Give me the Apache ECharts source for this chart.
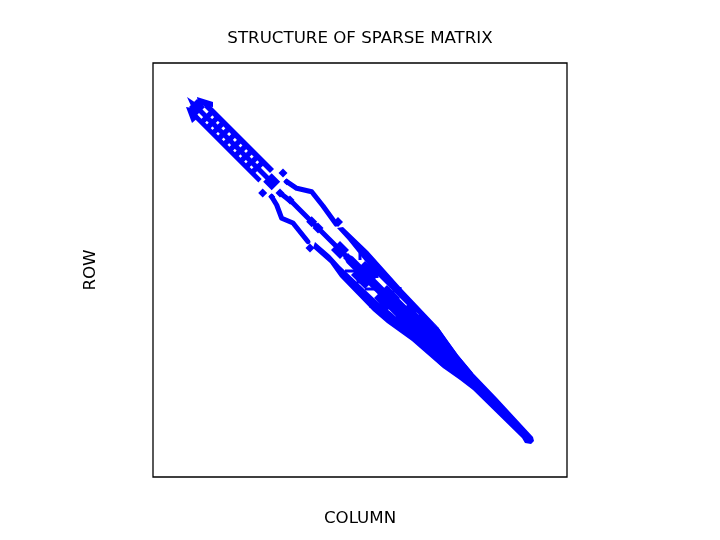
<!DOCTYPE html>
<html><head><meta charset="utf-8">
<script src="https://cdn.jsdelivr.net/npm/echarts@6/dist/echarts.min.js"></script>
<style>html,body{margin:0;padding:0;background:#fff}#c{width:720px;height:540px}</style></head>
<body><div id="c"></div>
<script>
const titleText = "STRUCTURE OF SPARSE MATRIX", colName = "COLUMN", rowName = "ROW";
// [column, row], matrix drawn on a 0..414 scale
const thinChains = [
  [[133.7,118.7],[143.7,125.3],[158.7,128.7],[170,143],[183,161]],
  [[127,130],[140,140],[158.7,158.7],[182,182],[197,197]],
  [[118.7,133.7],[123.7,142],[128.7,155.3],[140,160],[155,178.7]]
];
const earlyCore = [[197,197],[212,212],[234,234]];
const lateCore = [[234,234],[255,255],[272,274],[290,292]];
const bandStrips = [
  [[40,50.75],[107,117.75]],
  [[44,44.5],[115,115.5]],
  [[53,42],[119,108]]
];
const fillRegions = [
  [[34,34],[43,40],[39,45]],
  [[44,34],[60,39],[60,44],[51,43],[45,40]],
  [[33,44],[39,45],[46,54],[39,60]],
  [[190,164],[215,188],[232,207],[249,226],[267,245],[285,264],[258,246],[237,225],[220,208],[195,177],[184,165]],
  [[160,185],[177,200],[187,214],[220,248],[234,260],[259,278],[267,285],[290,305],[277,288],[257,267],[239,250],[224,238],[207,222],[187,203],[177,192],[162,179]],
  [[265,248],[285,264],[305,292],[320,310],[290,305],[272,287],[268,270]],
  [[285,264],[294,277],[305,292],[320,310],[344,335],[380,374],[381,378],[378,381],[372,380],[369,375],[320,327],[307,317],[290,305]]
];
const rungPoints = [
  [51,57],[56.6,62.6],[62.1,68.1],[67.7,73.7],[73.3,79.3],[78.9,84.9],[84.5,90.5],[90,96],[95.5,101.5],[101.3,107.3],
  [56.5,51.5],[62,57],[67.5,62.5],[73.2,68.2],[79,74],[84.8,79.8],[90.3,85.3],[95.8,90.8],[101.5,96.5],[107,102]
];
const clusterPoints = [
  [44,44,16],[118.7,118.7,17],[130,110,9],[109.7,130,9],[133.7,118.7,7],[118.7,133.7,7],
  [127,130,9],[137,137,9],[158.7,158.7,11],[165,165,11],[187,187,18],[195,195,10],[185,159,10],[157,185,9],
  [212,212,28],[234,235,26],[255,255,28],[272,274,28]
];
const blockPoints = [[212,212,17],[234,235,15],[255,255,16],[272,274,16],[187,187,8]];
const spikes = [
  [[192,208],[203,208]],[[212,226],[222,226]],[[207,190],[207,197]],[[224,207],[224,215]],
  [[235,224],[235,230]],[[216,243],[226,243]],[[243,238],[243,246]],[[247,224],[247,232]]
];
const chart = echarts.init(document.getElementById('c'), null, {renderer:'canvas'});
const blue = '#0000ff';
const series = [];
fillRegions.forEach(r => series.push({
  type:'custom', coordinateSystem:'cartesian2d', silent:true, data:[r[0]],
  encode:{x:0,y:1},
  renderItem:(p,api)=>({type:'polygon',shape:{points:r.map(v=>api.coord(v))},style:{fill:blue}})
}));
bandStrips.forEach((s,i)=>series.push({type:'line',data:s,symbol:'none',silent:true,
  lineStyle:{color:blue,width:[4.6,5,5.7][i],cap:'butt',opacity:1}}));
thinChains.forEach(s=>series.push({type:'line',data:s,symbol:'none',silent:true,
  lineStyle:{color:blue,width:5,cap:'round',join:'round',opacity:1}}));
series.push({type:'line',data:earlyCore,symbol:'none',silent:true,lineStyle:{color:blue,width:9,cap:'round',opacity:1}});
series.push({type:'line',data:lateCore,symbol:'none',silent:true,lineStyle:{color:blue,width:15,cap:'round',opacity:1}});
spikes.forEach(s=>series.push({type:'line',data:s,symbol:'none',silent:true,lineStyle:{color:blue,width:3,opacity:1}}));
series.push({type:'scatter',data:rungPoints,symbol:'diamond',symbolSize:7.5,itemStyle:{color:blue,opacity:1},silent:true});
series.push({type:'scatter',data:clusterPoints,symbol:'diamond',symbolSize:v=>v[2],itemStyle:{color:blue,opacity:1},silent:true});
series.push({type:'scatter',data:blockPoints,symbol:'rect',symbolSize:v=>v[2],itemStyle:{color:blue,opacity:1},silent:true});
chart.setOption({
  animation:false, backgroundColor:'#fff',
  title:{text:titleText,left:'center',top:25,
    textStyle:{fontFamily:'DejaVu Sans',fontSize:16.67,fontWeight:'normal',color:'#000'}},
  grid:{left:153,top:63,width:414,height:414,show:true,borderColor:'#000',borderWidth:1.3,backgroundColor:'#fff'},
  xAxis:{type:'value',min:0,max:414,name:colName,nameLocation:'middle',nameGap:33,
    nameTextStyle:{fontFamily:'DejaVu Sans',fontSize:16.67,color:'#000'},
    axisLine:{show:false},axisTick:{show:false},axisLabel:{show:false},splitLine:{show:false}},
  yAxis:{type:'value',min:0,max:414,inverse:true,name:rowName,nameLocation:'middle',nameGap:54,
    nameTextStyle:{fontFamily:'DejaVu Sans',fontSize:16.67,color:'#000'},
    axisLine:{show:false},axisTick:{show:false},axisLabel:{show:false},splitLine:{show:false}},
  series
});
</script></body></html>
